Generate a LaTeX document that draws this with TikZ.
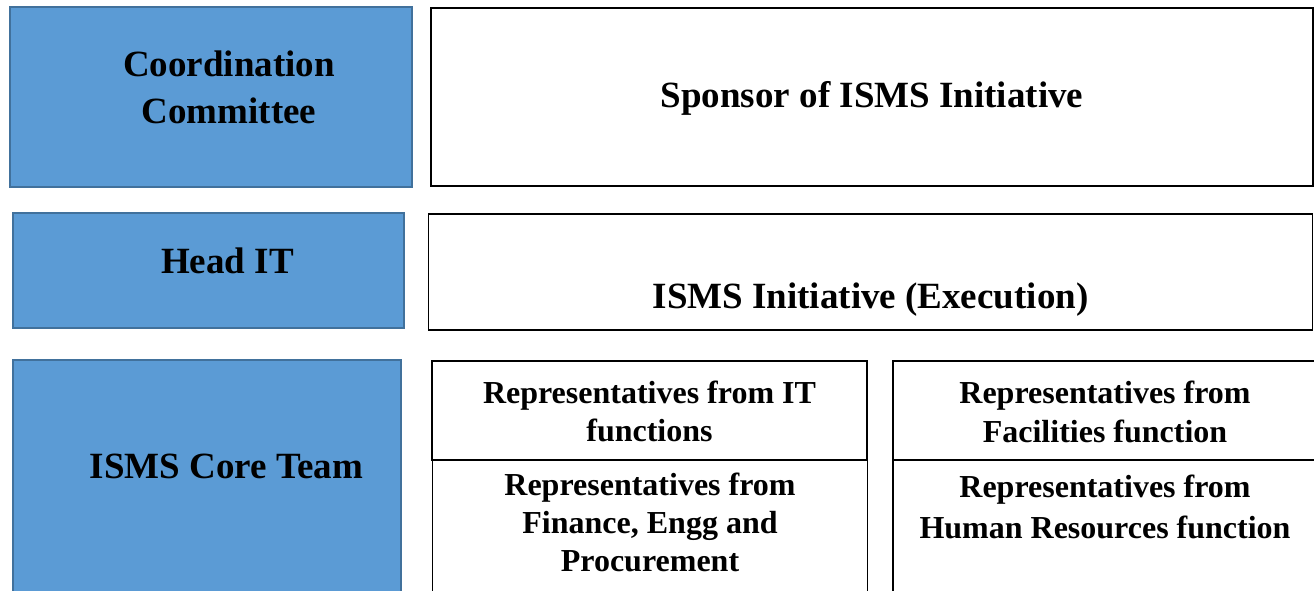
\documentclass[tikz,border=0pt]{standalone}
\usepackage{fontspec}
\setmainfont{Liberation Serif}
\definecolor{boxblue}{HTML}{5B9BD5}
\definecolor{boxedge}{HTML}{41719C}
\tikzset{
  bluebox/.style={rectangle, draw=boxedge, fill=boxblue, line width=2.2pt, inner sep=0pt, outer sep=0pt},
  whitebox/.style={rectangle, draw=black, fill=white, line width=1.3pt, inner sep=0pt, outer sep=0pt},
  bigtxt/.style={anchor=base, inner sep=0pt, font=\fontsize{37}{44}\selectfont\bfseries},
  smalltxt/.style={anchor=base, inner sep=0pt, font=\fontsize{32}{38}\selectfont\bfseries}
}
\begin{document}
\begin{tikzpicture}[x=1pt,y=-1pt]
\useasboundingbox (0,0) rectangle (1314,590);
\clip (0,0) rectangle (1314,590);
\fill[white] (0,0) rectangle (1314,590);
% boxes
\node[bluebox, minimum width=402pt, minimum height=180pt] (cc) at (211,97) {};
\node[whitebox, minimum width=882pt, minimum height=178pt] (sp) at (872,97) {};
\node[bluebox, minimum width=391pt, minimum height=115pt] (hd) at (208.5,270.5) {};
\node[whitebox, minimum width=884pt, minimum height=116pt] (ex) at (870.5,272) {};
\node[bluebox, minimum width=388pt, minimum height=260pt] (ct) at (207,490) {};
\node[whitebox, minimum width=435pt, minimum height=160pt] (fi) at (650,540) {};
\node[whitebox, minimum width=435pt, minimum height=99pt] (it) at (649.5,410.5) {};
\node[whitebox, minimum width=437pt, minimum height=160pt] (hr) at (1111.5,540) {};
\node[whitebox, minimum width=437pt, minimum height=99pt] (fa) at (1111.5,410.5) {};
% texts
\node[bigtxt] (cc1) at (229,76) {Coordination};
\node[bigtxt] (cc2) at (229,123) {Committee};
\node[bigtxt] (sp1) at (872,107) {Sponsor of ISMS Initiative};
\node[bigtxt] (hd1) at (227.5,273) {Head IT};
\node[bigtxt] (ex1) at (870.5,308) {ISMS Initiative (Execution)};
\node[bigtxt] (ct1) at (226.5,478) {ISMS Core Team};
\node[smalltxt] (it1) at (649.5,403) {Representatives from IT};
\node[smalltxt] (it2) at (649.5,441) {functions};
\node[smalltxt] (fi1) at (650,495) {Representatives from};
\node[smalltxt] (fi2) at (650,533) {Finance, Engg and};
\node[smalltxt] (fi3) at (650,571) {Procurement};
\node[smalltxt] (fa1) at (1105,403) {Representatives from};
\node[smalltxt] (fa2) at (1105,442) {Facilities function};
\node[smalltxt] (hr1) at (1105,497) {Representatives from};
\node[smalltxt] (hr2) at (1105,538) {Human Resources function};
\end{tikzpicture}
\end{document}
